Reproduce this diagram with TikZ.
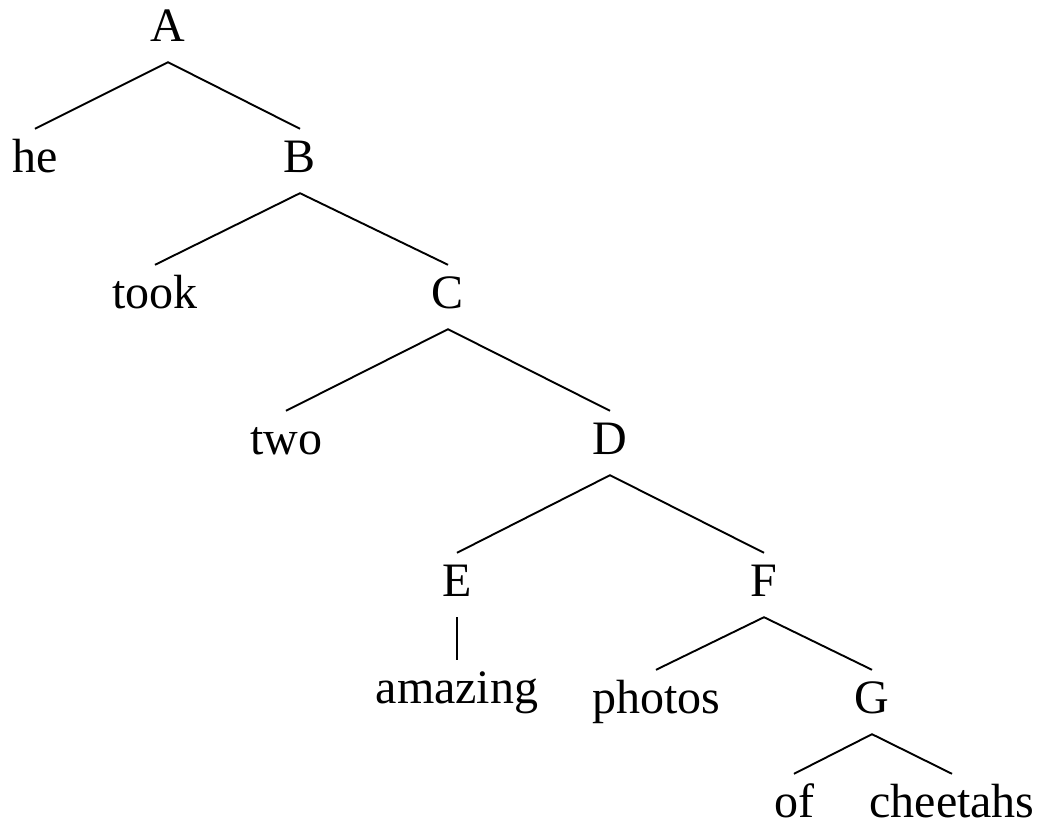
\documentclass[tikz,border=0pt]{standalone}
\usepackage{fontspec}
\setmainfont{Liberation Serif}
\usepackage{tikz}
\tikzset{
    tree-node/.style = {anchor=base, inner xsep=2pt, inner ysep=11pt, text height=32pt, text depth=10pt, font=\fontsize{48}{58}\selectfont},
    tree-leaf/.style = {tree-node, inner ysep=0pt, text height=43pt, text depth=0pt},
    tree-edge/.style = {draw=black, line width=1.9pt},
}

\begin{document}
\begin{tikzpicture}[x=1pt, y=-1pt]
\useasboundingbox (0,0) rectangle (1038,822);
\node [tree-node] (A) at (168,41) {A};
\node [tree-node] (he) at (35,172) {he};
\node [tree-node] (B) at (300,172) {B};
\node [tree-node] (took) at (155,308) {took};
\node [tree-node] (C) at (448,308) {C};
\node [tree-node] (two) at (286,454) {two};
\node [tree-node] (D) at (610,454) {D};
\node [tree-node] (E) at (457,596) {E};
\node [tree-node] (F) at (764,596) {F};
\node [tree-node] (amazing) at (457,703) {amazing};
\node [tree-node] (photos) at (656,713) {photos};
\node [tree-node] (G) at (872,713) {G};
\node [tree-leaf] (of) at (794,817) {of};
\node [tree-leaf] (cheetahs) at (952,817) {cheetahs};
% branches
\draw [tree-edge] (he.north) -- (A.south) -- (B.north);
\draw [tree-edge] (took.north) -- (B.south) -- (C.north);
\draw [tree-edge] (two.north) -- (C.south) -- (D.north);
\draw [tree-edge] (E.north) -- (D.south) -- (F.north);
\draw [tree-edge] (E.south) -- (amazing.north);
\draw [tree-edge] (photos.north) -- (F.south) -- (G.north);
\draw [tree-edge] (of.north) -- (G.south) -- (cheetahs.north);
\end{tikzpicture}
\end{document}
